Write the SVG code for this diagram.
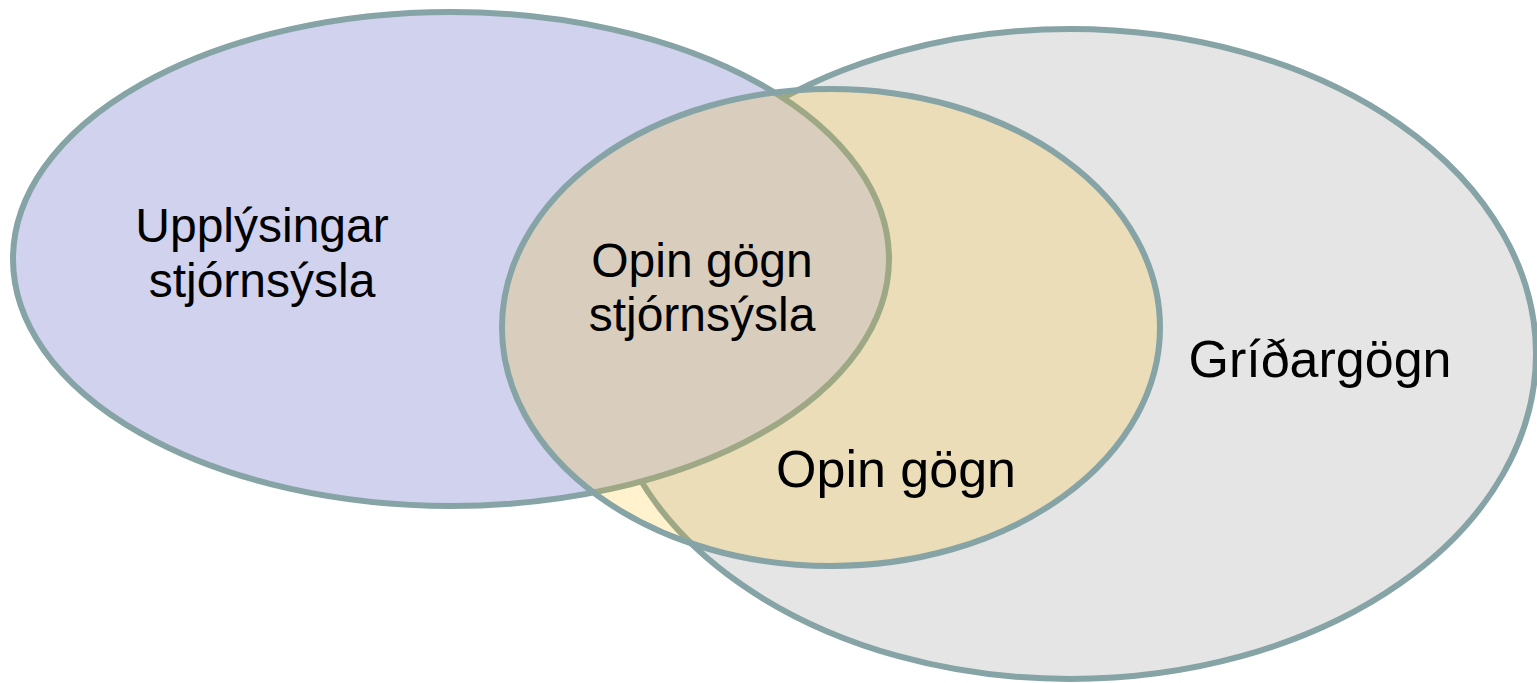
<svg xmlns="http://www.w3.org/2000/svg" width="1537" height="683" viewBox="0 0 1537 683">
<style>
.set{stroke:#86a3a6;stroke-width:6}
.lbl{font-family:"Liberation Sans",Arial,sans-serif;fill:#000;text-anchor:middle}
</style>
<rect width="1537" height="683" fill="#fff"/>
<g id="gridargogn">
<ellipse class="set" cx="1070" cy="354" rx="466" ry="325" fill="#e5e5e5"/>
</g>
<g id="upplysingar">
<ellipse class="set" cx="451" cy="259" rx="438" ry="247" fill="#d0d2ee"/>
</g>
<g id="opin-gogn">
<ellipse cx="831" cy="327.5" rx="329" ry="238.5" fill="#ffc000" fill-opacity="0.2" stroke="#86a3a6" stroke-width="6"/>
</g>
<g id="labels">
<text class="lbl" font-size="48" x="262" y="242">Upplýsingar</text>
<text class="lbl" font-size="48" x="262" y="297">stjórnsýsla</text>
<text class="lbl" font-size="48" x="702" y="277">Opin gögn</text>
<text class="lbl" font-size="48" x="702" y="331">stjórnsýsla</text>
<text class="lbl" font-size="52" x="896" y="487">Opin gögn</text>
<text class="lbl" font-size="52" x="1320" y="377">Gríðargögn</text>
</g>
</svg>
